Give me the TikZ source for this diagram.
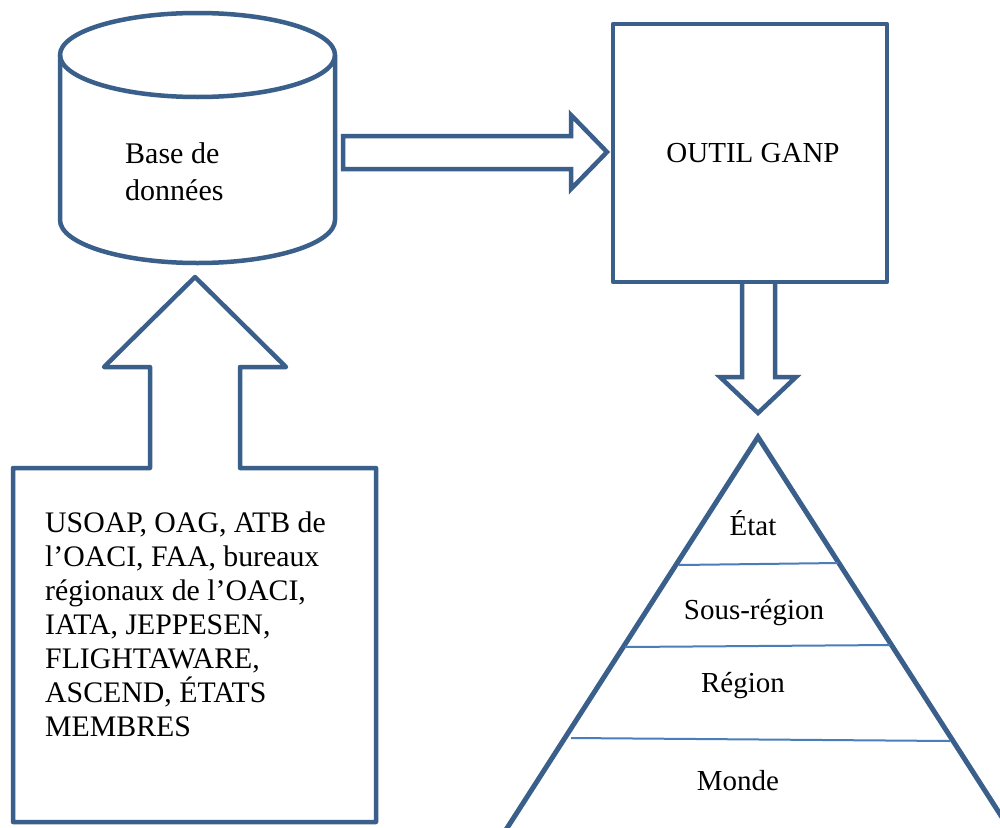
\documentclass[tikz,border=0pt]{standalone}
\usepackage{fontspec}
\setmainfont{Liberation Serif}
\definecolor{dblue}{HTML}{3A5F8B}
\definecolor{lblue}{HTML}{4A7EBB}
\tikzset{
  outl/.style={draw=dblue, line width=4.5pt, line join=round},
  sepline/.style={draw=lblue, line width=2pt},
  lbl/.style={inner sep=0pt, font=\fontsize{29}{34}\selectfont},
}
\begin{document}
\begin{tikzpicture}[x=1pt,y=-1pt]
\useasboundingbox[fill=white] (0,0) rectangle (1000,827);
% database cylinder
\draw[outl] (60,55) -- (60,220) arc[start angle=180, end angle=360, x radius=137.5pt, y radius=43pt] -- (335,55);
\draw[outl] (197.5,55) ellipse [x radius=137.5pt, y radius=42pt];
\node[lbl, font=\fontsize{30}{37}\selectfont, anchor=base west, align=left] (db) at (125,200) {Base de\\données};
% tool box
\node[outl, minimum width=274pt, minimum height=258pt, inner sep=0pt] (tool) at (750,153) {};
\node[lbl, anchor=base] (toollbl) at (753,162) {OUTIL GANP};
% right block arrow
\draw[outl, line join=miter] (343,136) -- (571,136) -- (571,115) -- (607,152) -- (571,189) -- (571,169) -- (343,169) -- cycle;
% down block arrow
\draw[outl, line join=miter] (742,282) -- (742,377) -- (720,377) -- (758,413) -- (796,377) -- (775,377) -- (775,282);
% sources box with up arrow
\draw[outl] (150,468) -- (150,367) -- (104,367) -- (195,277) -- (286,367) -- (240,367) -- (240,468)
  -- (376,468) -- (376,822) -- (13,822) -- (13,468) -- cycle;
\node[lbl, font=\fontsize{29.8}{34}\selectfont, anchor=base west, align=left] (src) at (45,736) {USOAP, OAG, ATB de\\l’OACI, FAA, bureaux\\régionaux de l’OACI,\\IATA, JEPPESEN,\\FLIGHTAWARE,\\ASCEND, ÉTATS\\MEMBRES};
% pyramid
\draw[outl, line width=5pt, line join=miter] (758,437) -- (1016.6,840) -- (499.4,840) -- cycle;
\draw[sepline] (679,565) -- (838,563);
\draw[sepline] (625,647) -- (890,645);
\draw[sepline] (571,738) -- (950,741);
\node[lbl, anchor=base] (etat) at (753,535) {État};
\node[lbl, anchor=base] (sous) at (754,619) {Sous-région};
\node[lbl, anchor=base] (reg) at (743,692) {Région};
\node[lbl, anchor=base] (monde) at (738,790) {Monde};
\end{tikzpicture}
\end{document}
